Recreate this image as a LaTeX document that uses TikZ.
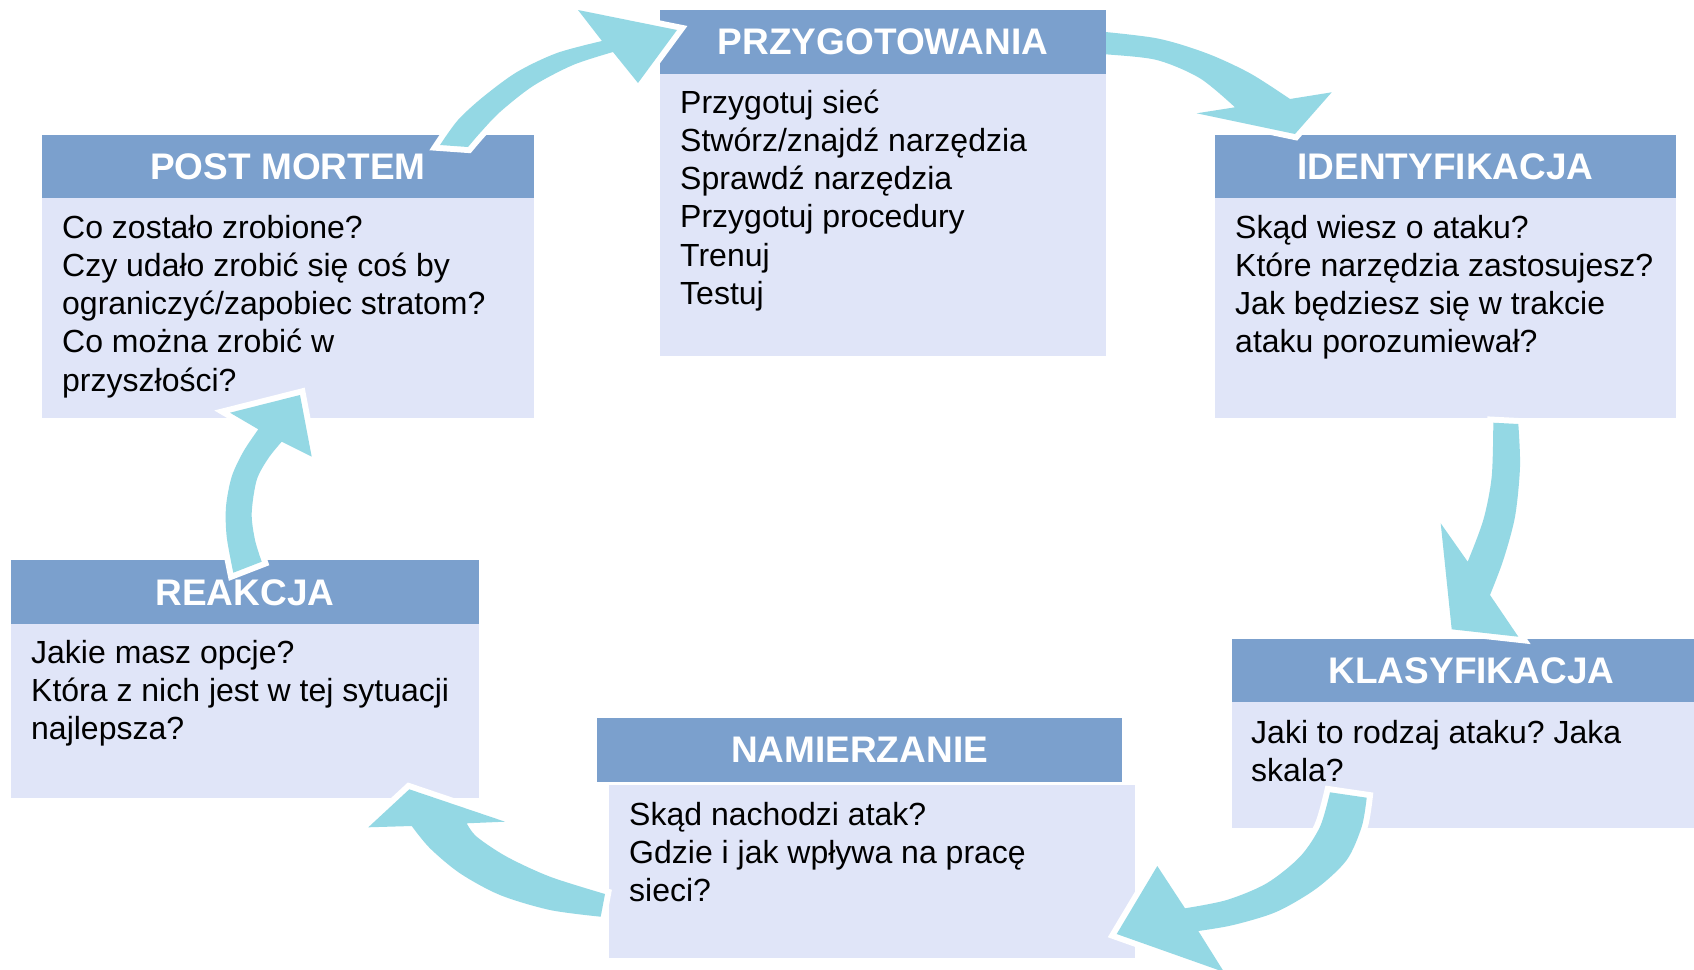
\documentclass[tikz,border=0pt]{standalone}
\usepackage{fontspec}
\setmainfont{Liberation Sans}
\frenchspacing
\definecolor{headc}{RGB}{123,160,205}
\definecolor{bodyc}{RGB}{224,229,248}
\definecolor{arrowc}{RGB}{148,216,228}
\tikzset{
  head/.style={fill=headc, text=white, font=\fontsize{37}{44}\selectfont\bfseries,
    minimum height=64pt, inner sep=0pt, text height=26.5pt, text depth=0pt},
  txt/.style={anchor=base west, inner sep=0pt, font=\fontsize{32}{38}\selectfont},
  cyc/.style={fill=arrowc, preaction={draw=white, line width=12pt}}
}
\begin{document}
\begin{tikzpicture}[x=1pt,y=-1pt]
\useasboundingbox (0,0) rectangle (1694,969);
\clip (0,0) rectangle (1694,969);

\node[head, minimum width=492pt] (pm) at (288,166.5) {POST MORTEM};
\fill[bodyc] (42,198) rectangle (534,418);
\foreach \t [count=\i from 0] in {Co zostało zrobione?, Czy udało zrobić się coś by,
  ograniczyć/zapobiec stratom?, Co można zrobić w, przyszłości?}{
\node[txt] (pm-\i) at (62,{238+38.3*\i}) {\t};
}

\node[head, minimum width=461pt] (ident) at (1445.5,166.5) {IDENTYFIKACJA};
\fill[bodyc] (1215,198) rectangle (1676,418);
\foreach \t [count=\i from 0] in {Skąd wiesz o ataku?, Które narzędzia zastosujesz?,
  Jak będziesz się w trakcie, ataku porozumiewał?}{
\node[txt] (ident-\i) at (1235,{238+38.3*\i}) {\t};
}

\node[head, minimum width=479pt] (klas) at (1471.5,670.5) {KLASYFIKACJA};
\fill[bodyc] (1232,702) rectangle (1711,828);
\foreach \t [count=\i from 0] in {Jaki to rodzaj ataku? Jaka, skala?}{
\node[txt] (klas-\i) at (1251,{743+38.3*\i}) {\t};
}

\node[head, minimum width=525pt] (nam) at (859.5,749.5) {NAMIERZANIE};
\fill[bodyc] (609,785) rectangle (1135,958);
\foreach \t [count=\i from 0] in {Skąd nachodzi atak?, Gdzie i jak wpływa na pracę, sieci?}{
\node[txt] (nam-\i) at (629,{825+38.3*\i}) {\t};
}

\node[head, minimum width=468pt] (reak) at (245,592) {REAKCJA};
\fill[bodyc] (11,624) rectangle (479,798);
\foreach \t [count=\i from 0] in {Jakie masz opcje?, Która z nich jest w tej sytuacji, najlepsza?}{
\node[txt] (reak-\i) at (31,{663+38.3*\i}) {\t};
}

\path[cyc] plot[smooth] coordinates {(1090,30.5) (1156.7,38.3) (1206.7,53.3) (1250,73.3) (1290,99)}
  -- (1331.7,92.3) -- (1295,134) -- (1196.7,113.3)
  -- plot[smooth] coordinates {(1235,107.3) (1200,78.3) (1156.7,60) (1106,54.3) (1090,53.5)} -- cycle;

\node[head, minimum width=446pt] (prep) at (883,41.5) {PRZYGOTOWANIA};
\fill[bodyc] (660,73.5) rectangle (1106,356);
\foreach \t [count=\i from 0] in {Przygotuj sieć, Stwórz/znajdź narzędzia, Sprawdź narzędzia,
  Przygotuj procedury, Trenuj, Testuj}{
\node[txt] (prep-\i) at (680,{113+38.3*\i}) {\t};
}

\path[cyc] plot[smooth] coordinates {(440,145) (458,120) (483,97) (517,72) (557,53) (602,41)}
  -- (578,10) -- (677,30) -- (638,83)
  -- plot[smooth] coordinates {(613,52) (573,65) (533,86) (500,112) (480,133) (468,147)} -- cycle;

\path[cyc] plot[smooth] coordinates {(1518.3,424) (1520,466.7) (1515,516.7) (1503.3,560) (1490,595)}
  -- (1518.3,636.7) -- (1451.7,629.3) -- (1440.7,523.3)
  -- plot[smooth] coordinates {(1467.7,561.7) (1483.3,520) (1491.7,476.7) (1493.3,422.7)} -- cycle;

\path[cyc] plot[smooth] coordinates {(1366.7,797.7) (1361.7,826.7) (1346.7,860) (1316.7,888.3) (1276.7,911.7) (1233.3,925) (1198.3,931)}
  -- (1224,972) -- (1116.7,934) -- (1157.3,866)
  -- plot[smooth] coordinates {(1185,908.3) (1226.7,900) (1266.7,883.3) (1300,856.7) (1320,826.7) (1330,792.3)} -- cycle;

\path[cyc] plot[smooth] coordinates {(600.7,916.7) (550,910) (500,895) (460,873.3) (430,848.3) (411.7,826)}
  -- (368.3,827.3) -- (409.3,789.3) -- (505,821.7)
  -- plot[smooth] coordinates {(466.7,823.3) (476.7,836.7) (506.7,856.7) (550,876.7) (605,894)} -- cycle;

\path[cyc] plot[smooth] coordinates {(233.3,572.7) (226.7,536.7) (226,506.7) (231.7,476.7) (243.3,451.7) (258.3,429.3)}
  -- (230,412.7) -- (300,395) -- (311.7,456.7)
  -- plot[smooth] coordinates {(281.7,441.7) (268.3,458.3) (256.7,480) (251.7,513.3) (255,540) (261.7,561.7)} -- cycle;
\end{tikzpicture}
\end{document}
